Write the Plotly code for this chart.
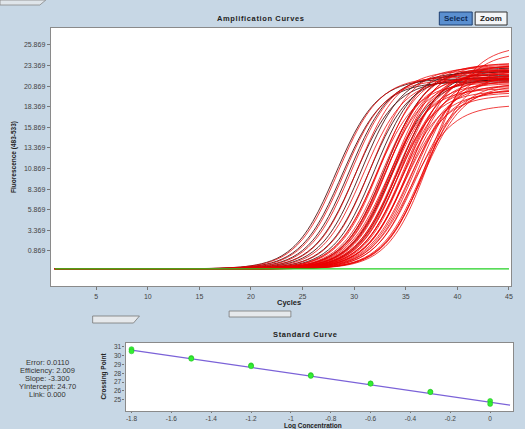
import numpy as np
import plotly.graph_objects as go

# ---------------- data ----------------
cycles = list(range(1, 46))
baseline = -1.3
ct_scale = 2.0

# dark (black-red) amplification curves: midpoint cycle, plateau fluorescence
dark_mid = [28.2, 28.8, 29.5, 30.1, 30.7, 31.4, 32.0, 33.0, 33.6, 34.3]
dark_plat = [21.8, 21.4, 22.2, 21.6, 22.6, 22.0, 22.8, 23.1, 21.8, 22.8]

# red amplification curves
red_mid = [28.4, 29.0, 29.7, 30.3, 30.9, 31.6, 32.1, 32.3, 32.5, 32.7, 32.9,
           33.0, 33.1, 33.2, 33.3, 33.5, 33.6, 33.7, 33.8, 33.9, 34.0, 34.1, 34.2,
           34.3, 34.4, 34.5, 34.6, 34.7, 34.8, 34.9, 35.0, 35.1, 35.2, 35.3, 35.4,
           35.6, 35.8, 36.0, 36.2, 36.5, 36.8, 37.1, 37.4, 36.6, 35.5]
red_plat = [22.0, 21.7, 22.3, 22.8, 21.8, 23.2, 21.3, 22.7, 23.4, 22.1, 21.6,
            23.0, 22.4, 20.6, 23.6, 21.9, 21.2, 23.3, 22.6, 20.3, 23.7, 22.2, 20.9,
            22.9, 21.8, 20.1, 23.4, 21.5, 22.7, 19.8, 23.1, 21.1, 22.3, 20.4, 23.5,
            21.7, 22.0, 20.6, 22.8, 21.3, 22.4, 25.0, 25.8, 21.0, 18.6]

green_level = [-1.3, -1.3]
green_x = [1, 45]

# standard curve
std_x = [-1.8, -1.8, -1.5, -1.5, -1.2, -1.2, -0.9, -0.9, -0.6, -0.6, -0.3, -0.3, 0.0, 0.0]
std_y = [30.75, 30.5, 29.75, 29.65, 28.9, 28.8, 27.8, 27.7, 26.85, 26.8, 25.9, 25.85, 24.85, 24.5]
fit_slope = -3.300
fit_intercept = 24.70
fit_x = [-1.8, 0.1]

stats_lines = ["Error: 0.0110", "Efficiency: 2.009", "Slope: -3.300",
               "YIntercept: 24.70", "Link: 0.000"]

amp_yticks = [0.869 + 2.5 * k for k in range(11)]
amp_xticks = [5, 10, 15, 20, 25, 30, 35, 40, 45]
std_xticks = [-1.8, -1.6, -1.4, -1.2, -1.0, -0.8, -0.6, -0.4, -0.2, 0.0]
std_xtext = ["-1.8", "-1.6", "-1.4", "-1.2", "-1", "-0.8", "-0.6", "-0.4", "-0.2", "0"]
std_yticks = [25, 26, 27, 28, 29, 30, 31]

# ---------------- figure ----------------
W, H = 525, 429
BG = "#c7d7e5"
fig = go.Figure()

x = np.array(cycles, dtype=float)


def curve(m, p):
    return baseline + (p - baseline) / (1.0 + np.exp(-(x - m) / ct_scale))


for m, p in zip(dark_mid, dark_plat):
    fig.add_trace(go.Scatter(x=cycles, y=curve(m, p), mode="lines", line_shape="spline",
                             line=dict(color="rgba(70,10,10,0.85)", width=1),
                             xaxis="x", yaxis="y", showlegend=False, hoverinfo="skip"))
for m, p in zip(red_mid, red_plat):
    fig.add_trace(go.Scatter(x=cycles, y=curve(m, p), mode="lines", line_shape="spline",
                             line=dict(color="rgba(235,0,0,0.75)", width=1),
                             xaxis="x", yaxis="y", showlegend=False, hoverinfo="skip"))
fig.add_trace(go.Scatter(x=green_x, y=green_level, mode="lines",
                         line=dict(color="#22d022", width=1.3),
                         xaxis="x", yaxis="y", showlegend=False, hoverinfo="skip"))

# standard curve
fit_y = [fit_slope * v + fit_intercept for v in fit_x]
fig.add_trace(go.Scatter(x=fit_x, y=fit_y, mode="lines",
                         line=dict(color="#7b62d8", width=1.3),
                         xaxis="x2", yaxis="y2", showlegend=False, hoverinfo="skip"))
fig.add_trace(go.Scatter(x=std_x, y=std_y, mode="markers",
                         marker=dict(color="#33ee33", size=5, line=dict(color="#22bb22", width=0.5)),
                         xaxis="x2", yaxis="y2", showlegend=False, hoverinfo="skip"))

tickfont = dict(family="Liberation Sans, Arial", size=7, color="#444")
axbase = dict(showgrid=False, zeroline=False, showline=True, mirror=True,
              linecolor="#8a8a8a", linewidth=1.2, tickcolor="#777")

fig.update_layout(
    width=W, height=H,
    margin=dict(l=0, r=0, t=0, b=0),
    paper_bgcolor=BG, plot_bgcolor="white",
    xaxis=dict(domain=[51 / W, 513 / W], range=[0.6, 45.2], tickvals=amp_xticks,
               anchor="y", ticks="outside", ticklen=3, tickfont=tickfont, **axbase),
    yaxis=dict(domain=[1 - 286 / H, 1 - 28 / H], range=[-3.38, 27.93], tickvals=amp_yticks,
               tickformat=".3f", anchor="x", ticks="outside", ticklen=3, tickfont=tickfont, **axbase),
    xaxis2=dict(domain=[126 / W, 515 / W], range=[-1.83, 0.115], tickvals=std_xticks,
                ticktext=std_xtext, anchor="y2", ticks="outside", ticklen=1,
                tickfont=dict(family="Liberation Sans, Arial", size=6.5, color="#444"), **axbase),
    yaxis2=dict(domain=[1 - 411 / H, 1 - 343 / H], range=[23.7, 31.45], tickvals=std_yticks,
                anchor="x2", ticks="outside", ticklen=2,
                tickfont=dict(family="Liberation Sans, Arial", size=6.5, color="#444"), **axbase),
)

bold = dict(family="Liberation Sans, Arial Black, Arial", color="#222")
annots = []


def spaced(s):
    return "\u200a".join(list(s))


annots.append(dict(x=261 / W, y=1 - 19 / H, text="<b>" + spaced("Amplification Curves") + "</b>",
                   font=dict(size=7.5, **bold)))
annots.append(dict(x=306 / W, y=1 - 334 / H, text="<b>" + spaced("Standard Curve") + "</b>",
                   font=dict(size=7.5, **bold)))
annots.append(dict(x=290 / W, y=1 - 302 / H, text="<b>Cycles</b>", font=dict(size=7.5, **bold)))
annots.append(dict(x=314 / W, y=1 - 425.5 / H, text="<b>Log Concentration</b>",
                   font=dict(size=6.5, **bold)))
annots.append(dict(x=14 / W, y=1 - 157 / H, text="<b>Fluorescence (483-533)</b>", textangle=-90,
                   font=dict(size=6.5, **bold)))
annots.append(dict(x=104 / W, y=1 - 376 / H, text="<b>Crossing Point</b>", textangle=-90,
                   font=dict(size=6.5, **bold)))
for i, line in enumerate(stats_lines):
    annots.append(dict(x=48 / W, y=1 - (362 + 8.2 * i) / H, text=line,
                       font=dict(family="Liberation Sans, Arial", size=7.5, color="#333")))
# buttons
annots.append(dict(x=457.5 / W, y=1 - 18.5 / H, text="<b>Select</b>",
                   font=dict(family="Liberation Sans, Arial", size=8, color="#0d2a55")))
annots.append(dict(x=492.5 / W, y=1 - 18.5 / H, text="<b>Zoom</b>",
                   font=dict(family="Liberation Sans, Arial", size=8, color="#222")))
for a in annots:
    a.update(xref="paper", yref="paper", showarrow=False, xanchor="center", yanchor="middle")
fig.update_layout(annotations=annots)


def px_rect(x0, y0, x1, y1, **kw):
    return dict(type="rect", xref="paper", yref="paper",
                x0=x0 / W, x1=x1 / W, y0=1 - y1 / H, y1=1 - y0 / H, **kw)


shapes = [
    px_rect(441, 12, 474, 25, fillcolor="#5a8fd0", line=dict(color="#1d3f70", width=1)),
    px_rect(477, 12, 509, 25, fillcolor="#f4f6f8", line=dict(color="#333", width=1)),
    # cycles slider
    px_rect(230, 311, 292, 317, fillcolor="#e6e9ec", line=dict(color="#777", width=0.8)),
    # small tab slider
    dict(type="path", xref="paper", yref="paper",
         path=f"M {93/W},{1-316/H} L {140/W},{1-316/H} L {134/W},{1-323/H} L {93/W},{1-323/H} Z",
         fillcolor="#e6e9ec", line=dict(color="#777", width=0.8)),
    # top-left tab
    dict(type="path", xref="paper", yref="paper",
         path=f"M 0,{1-0/H} L {46/W},{1-0/H} L {40/W},{1-5/H} L 0,{1-5/H} Z",
         fillcolor="#dfe5ea", line=dict(color="#888", width=0.8)),
]
fig.update_layout(shapes=shapes)

fig.write_html("out.html", config={"displayModeBar": False},
               post_script="document.body.style.margin='0';document.body.style.overflow='hidden';")
